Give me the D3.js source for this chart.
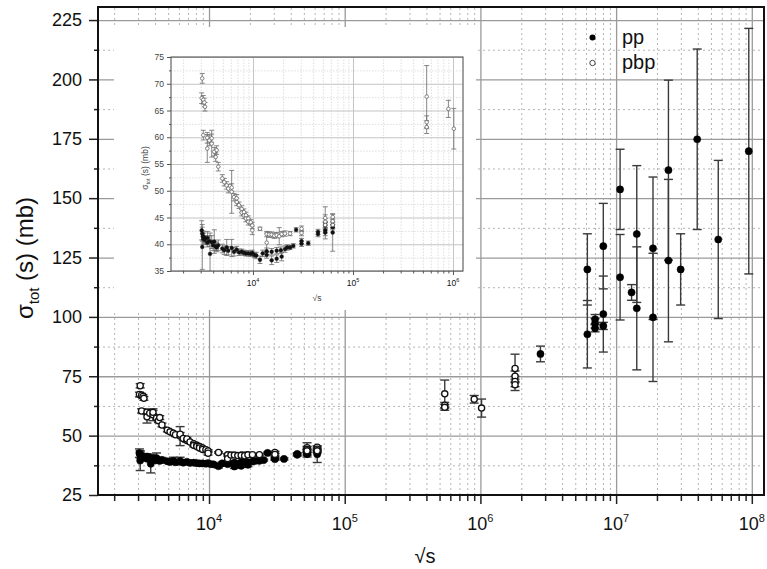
<!DOCTYPE html>
<html><head><meta charset="utf-8">
<script src="https://cdn.jsdelivr.net/npm/d3@7/dist/d3.min.js"></script>
<style>body{margin:0;background:#fff} svg{display:block;font-family:"Liberation Sans",Arial,sans-serif}</style>
</head><body><svg id="c" width="767" height="569"></svg>
<script>
// ---------- data ----------
const xTickValues = [1e4, 1e5, 1e6, 1e7, 1e8];
const xTickExponents = ["4", "5", "6", "7", "8"];
const yTickValues = [25, 50, 75, 100, 125, 150, 175, 200, 225];
const insetXTickValues = [1e4, 1e5, 1e6];
const insetXTickExponents = ["4", "5", "6"];
const insetYTickValues = [35, 40, 45, 50, 55, 60, 65, 70, 75];
const legendLabels = ["pp", "pbp"];

// [sqrt(s), sigma_tot (mb), error (mb)]
const ppData = [
  [3070, 42.6, 1.8], [3110, 42.0, 1.2], [3150, 41.5, 1.0], [3185, 41.0, 1.0],
  [3110, 39.5, 4.2], [3260, 41.3, 1.0], [3311, 40.8, 0.8], [3490, 40.3, 0.8],
  [3500, 41.2, 1.2], [3720, 38.2, 3.9], [3656, 40.6, 1.0], [3864, 40.4, 1.2],
  [4000, 39.8, 1.0], [4102, 40.5, 2.2], [4236, 39.6, 0.8], [4335, 39.4, 0.8],
  [4498, 39.8, 1.0], [4932, 39.2, 0.8], [5164, 38.9, 0.8], [5457, 39.4, 1.5],
  [5662, 38.8, 0.8], [6124, 39.3, 1.6], [6457, 38.6, 0.8], [6871, 39.0, 0.6],
  [7244, 38.5, 0.6], [7709, 38.6, 0.5], [8128, 38.4, 0.5], [8511, 38.3, 0.5],
  [8974, 38.3, 0.5], [9484, 38.2, 0.5], [9840, 38.4, 0.5], [10300, 38.0, 0.5],
  [10800, 37.9, 0.6], [11750, 37.1, 0.7], [12500, 38.3, 0.6], [13710, 38.7, 0.6],
  [13710, 38.0, 0.6], [15380, 38.6, 0.6], [15380, 37.0, 0.8], [17260, 38.8, 0.6],
  [17260, 37.3, 0.7], [19000, 38.9, 0.6], [19360, 37.7, 0.8], [20890, 39.1, 0.6],
  [22000, 39.4, 0.5], [23500, 39.4, 0.4], [25300, 39.7, 0.4], [27000, 42.7, 0.4],
  [30600, 40.1, 0.5], [30600, 40.6, 0.5], [35700, 40.2, 0.4], [44700, 41.9, 0.5],
  [44700, 42.3, 0.5], [52800, 42.2, 0.6], [52800, 42.6, 0.5], [52800, 43.5, 0.6],
  [52800, 44.0, 3.0], [62700, 42.2, 3.5], [62700, 43.2, 0.5], [62700, 43.6, 0.6],
  [2.77e6, 84.4, 3.3], [6.14e6, 120.0, 15.0], [6.14e6, 92.7, 14.2],
  [7.0e6, 99.0, 2.0], [7.0e6, 97.3, 2.0], [7.0e6, 95.2, 1.5],
  [8.05e6, 129.8, 18.0], [8.05e6, 101.2, 16.0], [8.05e6, 96.2, 1.5],
  [1.07e7, 153.7, 16.9], [1.07e7, 116.7, 18.0], [1.30e7, 110.3, 3.3],
  [1.42e7, 134.9, 28.8], [1.42e7, 103.6, 25.9], [1.87e7, 128.9, 30.0],
  [1.87e7, 99.8, 27.0], [2.43e7, 161.8, 37.9], [2.43e7, 123.7, 34.2],
  [2.99e7, 120.0, 15.0], [3.96e7, 174.8, 38.0], [5.66e7, 132.6, 33.3],
  [9.5e7, 169.8, 51.7]
];
const pbpData = [
  [3110, 71.0, 0.9], [3070, 67.3, 1.0], [3185, 67.0, 0.8], [3260, 66.5, 0.8],
  [3311, 65.7, 0.8], [3185, 60.4, 0.9], [3490, 59.9, 1.0], [3490, 57.9, 2.6],
  [3656, 59.4, 1.0], [3864, 58.8, 2.5], [3864, 59.8, 0.8], [4102, 57.3, 0.8],
  [4236, 56.3, 0.8], [4335, 57.6, 0.8], [4498, 54.5, 0.8], [4932, 52.3, 0.7],
  [5164, 51.6, 0.7], [5457, 51.0, 0.7], [5662, 50.4, 0.8], [6124, 49.8, 4.0],
  [6124, 50.6, 0.7], [6457, 48.8, 0.7], [6871, 47.9, 0.7], [6871, 48.6, 0.7],
  [7244, 47.3, 0.6], [7709, 46.6, 0.6], [7709, 45.9, 0.6], [8128, 46.0, 0.6],
  [8128, 45.4, 0.6], [8511, 45.4, 0.6], [8511, 44.8, 0.6], [8974, 44.8, 0.5],
  [8974, 44.2, 0.6], [9484, 44.1, 0.5], [9840, 43.5, 0.6], [9840, 42.6, 0.8],
  [11750, 42.9, 0.3], [13710, 41.9, 0.5], [13710, 40.3, 1.8], [14500, 41.8, 0.5],
  [15380, 41.8, 0.5], [16300, 41.6, 0.5], [17260, 41.7, 0.5], [18300, 41.5, 1.6],
  [19360, 41.9, 0.5], [20890, 42.0, 0.5], [23500, 42.0, 0.4], [30600, 42.9, 0.5],
  [30600, 42.1, 0.5], [52800, 44.9, 0.6], [52800, 44.2, 0.6], [52800, 43.6, 0.5],
  [62700, 45.1, 0.5], [62700, 44.3, 0.6], [62700, 43.6, 0.5],
  [5.46e5, 67.6, 5.8], [5.46e5, 62.8, 1.2], [5.46e5, 61.9, 1.2],
  [9.0e5, 65.3, 1.6], [1.02e6, 61.6, 3.8],
  [1.8e6, 78.3, 6.0], [1.8e6, 75.0, 2.2], [1.8e6, 72.8, 2.2], [1.8e6, 71.4, 2.4]
];

// ---------- helpers ----------
function logMinor(lo, hi) {
  const out = [];
  for (let k = Math.floor(Math.log10(lo)); k <= Math.ceil(Math.log10(hi)); k++)
    for (let m = 2; m <= 9; m++) { const v = m * Math.pow(10, k); if (v >= lo && v <= hi) out.push(v); }
  return out;
}
function styleGrid(g, color, dash, w) {
  g.select(".domain").remove();
  g.selectAll("line").attr("stroke", color).attr("stroke-width", w).attr("stroke-dasharray", dash);
}
function drawSeries(g, data, xs, ys, o) {
  const grp = g.append("g");
  grp.selectAll(null).data(data).join("line")
    .attr("x1", d => xs(d[0])).attr("x2", d => xs(d[0]))
    .attr("y1", d => ys(d[1] - d[2])).attr("y2", d => ys(d[1] + d[2]))
    .attr("stroke", o.err).attr("stroke-width", o.ew);
  [-1, 1].forEach(s => {
    grp.selectAll(null).data(data).join("line")
      .attr("x1", d => xs(d[0]) - o.cap).attr("x2", d => xs(d[0]) + o.cap)
      .attr("y1", d => ys(d[1] + s * d[2])).attr("y2", d => ys(d[1] + s * d[2]))
      .attr("stroke", o.err).attr("stroke-width", o.ew);
  });
  return grp;
}
function drawMarks(g, data, xs, ys, o) {
  g.append("g").selectAll(null).data(data).join("circle")
    .attr("cx", d => xs(d[0])).attr("cy", d => ys(d[1])).attr("r", o.r)
    .attr("fill", o.fill).attr("stroke", o.stroke).attr("stroke-width", o.sw);
}
function supLabels(g, ticks, exps, xs, y, size, supSize, supDy) {
  ticks.forEach((t, i) => {
    const txt = g.append("text").attr("x", xs(t)).attr("y", y)
      .attr("text-anchor", "middle").attr("font-size", size).attr("fill", "#111");
    txt.append("tspan").text("10");
    txt.append("tspan").attr("font-size", supSize).attr("dy", supDy).text(exps[i]);
  });
}

const svg = d3.select("#c");

// ---------- main plot ----------
const X0 = 98, X1 = 764, Y0 = 495, Y1 = 7;
const x = d3.scaleLog().domain([1520, 1.23e8]).range([X0, X1]);
const y = d3.scaleLinear().domain([25, 230.5]).range([Y0, Y1]);
const xMinor = logMinor(1520, 1.23e8);
const yMinor = d3.range(37.5, 230, 25);

const main = svg.append("g");
main.append("g").attr("transform", `translate(0,${Y0})`)
  .call(d3.axisBottom(x).tickValues(xMinor).tickSize(-(Y0 - Y1)).tickFormat(""))
  .call(g => styleGrid(g, "#b4b4b4", "2,3", 1));
main.append("g").attr("transform", `translate(${X0},0)`)
  .call(d3.axisLeft(y).tickValues(yMinor).tickSize(-(X1 - X0)).tickFormat(""))
  .call(g => styleGrid(g, "#b4b4b4", "2,3", 1));
main.append("g").attr("transform", `translate(0,${Y0})`)
  .call(d3.axisBottom(x).tickValues(xTickValues).tickSize(-(Y0 - Y1)).tickFormat(""))
  .call(g => styleGrid(g, "#9a9a9a", null, 1.3));
main.append("g").attr("transform", `translate(${X0},0)`)
  .call(d3.axisLeft(y).tickValues(yTickValues.slice(1)).tickSize(-(X1 - X0)).tickFormat(""))
  .call(g => styleGrid(g, "#9a9a9a", null, 1.3));

// data (main)
const mainOpt = { err: "#3a3a3a", ew: 1.4, cap: 4.5 };
drawSeries(main, ppData, x, y, mainOpt);
drawSeries(main, pbpData, x, y, mainOpt);
drawMarks(main, ppData, x, y, { r: 3.6, fill: "#000", stroke: "#000", sw: 0.5 });
drawMarks(main, pbpData, x, y, { r: 3.1, fill: "#fff", stroke: "#111", sw: 1.3 });

// axes & frame
const lg = main.append("g").attr("transform", `translate(${X0},0)`)
  .call(d3.axisLeft(y).tickValues(yTickValues).tickSize(9).tickPadding(7));
lg.select(".domain").remove();
lg.selectAll("text").attr("font-size", 18).attr("fill", "#111").attr("font-family", "Liberation Sans, Arial, sans-serif");
lg.selectAll("line").attr("stroke", "#222").attr("stroke-width", 1.5);
const lgm = main.append("g").attr("transform", `translate(${X0},0)`)
  .call(d3.axisLeft(y).tickValues(yMinor).tickSize(4).tickFormat(""));
lgm.select(".domain").remove();
lgm.selectAll("line").attr("stroke", "#222").attr("stroke-width", 1.5);
const bg = main.append("g").attr("transform", `translate(0,${Y0})`)
  .call(d3.axisBottom(x).tickValues(xTickValues).tickSize(9).tickFormat(""));
bg.select(".domain").remove();
bg.selectAll("line").attr("stroke", "#222").attr("stroke-width", 1.5);
const bgm = main.append("g").attr("transform", `translate(0,${Y0})`)
  .call(d3.axisBottom(x).tickValues(xMinor).tickSize(6).tickFormat(""));
bgm.select(".domain").remove();
bgm.selectAll("line").attr("stroke", "#222").attr("stroke-width", 1.5);
supLabels(main, xTickValues, xTickExponents, x, 530, 18, 11, -8);

main.append("rect").attr("x", X0).attr("y", Y1).attr("width", X1 - X0).attr("height", Y0 - Y1)
  .attr("fill", "none").attr("stroke", "#111").attr("stroke-width", 2);

// axis titles
const yt = main.append("text").attr("transform", `translate(33,258) rotate(-90)`)
  .attr("text-anchor", "middle").attr("font-size", 24).attr("fill", "#111");
yt.append("tspan").text("σ");
yt.append("tspan").attr("font-size", 15).attr("dy", 6).text("tot");
yt.append("tspan").attr("dy", -6).text(" (s) (mb)");
main.append("text").attr("x", 425).attr("y", 563).attr("text-anchor", "middle")
  .attr("font-size", 20).attr("fill", "#111").text("√s");

// legend
const leg = main.append("g");
leg.append("circle").attr("cx", 592.5).attr("cy", 37.5).attr("r", 3).attr("fill", "#000");
leg.append("circle").attr("cx", 592.5).attr("cy", 63).attr("r", 2.7).attr("fill", "#fff").attr("stroke", "#444").attr("stroke-width", 1);
leg.selectAll("text.l").data(legendLabels).join("text")
  .attr("x", 622).attr("y", (d, i) => 44 + i * 25).attr("font-size", 20).attr("fill", "#111").text(d => d);

// ---------- inset ----------
const inset = svg.append("g");
inset.append("rect").attr("x", 114).attr("y", 27).attr("width", 362).attr("height", 283).attr("fill", "#fff");
const IX0 = 171, IX1 = 463, IY0 = 271, IY1 = 57;
const ix = d3.scaleLog().domain([1514, 1.26e6]).range([IX0, IX1]);
const iy = d3.scaleLinear().domain([35, 75]).range([IY0, IY1]);
const ixMinor = logMinor(1514, 1.26e6);
const iyMinor = d3.range(37.5, 75, 5);

inset.append("g").attr("transform", `translate(0,${IY0})`)
  .call(d3.axisBottom(ix).tickValues(ixMinor).tickSize(-(IY0 - IY1)).tickFormat(""))
  .call(g => styleGrid(g, "#d6d6d6", "1.5,1.5", 0.8));
inset.append("g").attr("transform", `translate(${IX0},0)`)
  .call(d3.axisLeft(iy).tickValues(iyMinor).tickSize(-(IX1 - IX0)).tickFormat(""))
  .call(g => styleGrid(g, "#d6d6d6", "1.5,1.5", 0.8));
inset.append("g").attr("transform", `translate(0,${IY0})`)
  .call(d3.axisBottom(ix).tickValues(insetXTickValues).tickSize(-(IY0 - IY1)).tickFormat(""))
  .call(g => styleGrid(g, "#c4c4c4", null, 1));
inset.append("g").attr("transform", `translate(${IX0},0)`)
  .call(d3.axisLeft(iy).tickValues(insetYTickValues).tickSize(-(IX1 - IX0)).tickFormat(""))
  .call(g => styleGrid(g, "#c4c4c4", null, 1));

svg.append("clipPath").attr("id", "iclip").append("rect")
  .attr("x", IX0).attr("y", IY1).attr("width", IX1 - IX0).attr("height", IY0 - IY1);
const idata = inset.append("g").attr("clip-path", "url(#iclip)");
const insetOpt = { err: "#6a6a6a", ew: 0.8, cap: 2.5 };
drawSeries(idata, ppData, ix, iy, insetOpt);
drawSeries(idata, pbpData, ix, iy, insetOpt);
drawMarks(idata, ppData, ix, iy, { r: 1.9, fill: "#111", stroke: "#111", sw: 0.4 });
drawMarks(idata, pbpData, ix, iy, { r: 1.8, fill: "#fff", stroke: "#666", sw: 0.8 });

const ilg = inset.append("g").attr("transform", `translate(${IX0},0)`)
  .call(d3.axisLeft(iy).tickValues(insetYTickValues).tickSize(4).tickPadding(3));
ilg.select(".domain").remove();
ilg.selectAll("text").attr("font-size", 8.5).attr("fill", "#444");
ilg.selectAll("line").attr("stroke", "#555");
const ilgm = inset.append("g").attr("transform", `translate(${IX0},0)`)
  .call(d3.axisLeft(iy).tickValues(iyMinor).tickSize(2).tickFormat(""));
ilgm.select(".domain").remove(); ilgm.selectAll("line").attr("stroke", "#555");
const ibg = inset.append("g").attr("transform", `translate(0,${IY0})`)
  .call(d3.axisBottom(ix).tickValues(insetXTickValues).tickSize(4).tickFormat(""));
ibg.select(".domain").remove(); ibg.selectAll("line").attr("stroke", "#555");
const ibgm = inset.append("g").attr("transform", `translate(0,${IY0})`)
  .call(d3.axisBottom(ix).tickValues(ixMinor).tickSize(2.5).tickFormat(""));
ibgm.select(".domain").remove(); ibgm.selectAll("line").attr("stroke", "#555");
supLabels(inset, insetXTickValues, insetXTickExponents, ix, 286, 8.5, 5.5, -4);
inset.append("rect").attr("x", IX0).attr("y", IY1).attr("width", IX1 - IX0).attr("height", IY0 - IY1)
  .attr("fill", "none").attr("stroke", "#555").attr("stroke-width", 1.1);

const iyt = inset.append("text").attr("transform", `translate(148,168) rotate(-90)`)
  .attr("text-anchor", "middle").attr("font-size", 8.5).attr("fill", "#444");
iyt.append("tspan").text("σ");
iyt.append("tspan").attr("font-size", 5.5).attr("dy", 2).text("tot");
iyt.append("tspan").attr("dy", -2).text(" (s) (mb)");
inset.append("text").attr("x", 317).attr("y", 301).attr("text-anchor", "middle")
  .attr("font-size", 8.5).attr("fill", "#444").text("√s");
</script></body></html>
